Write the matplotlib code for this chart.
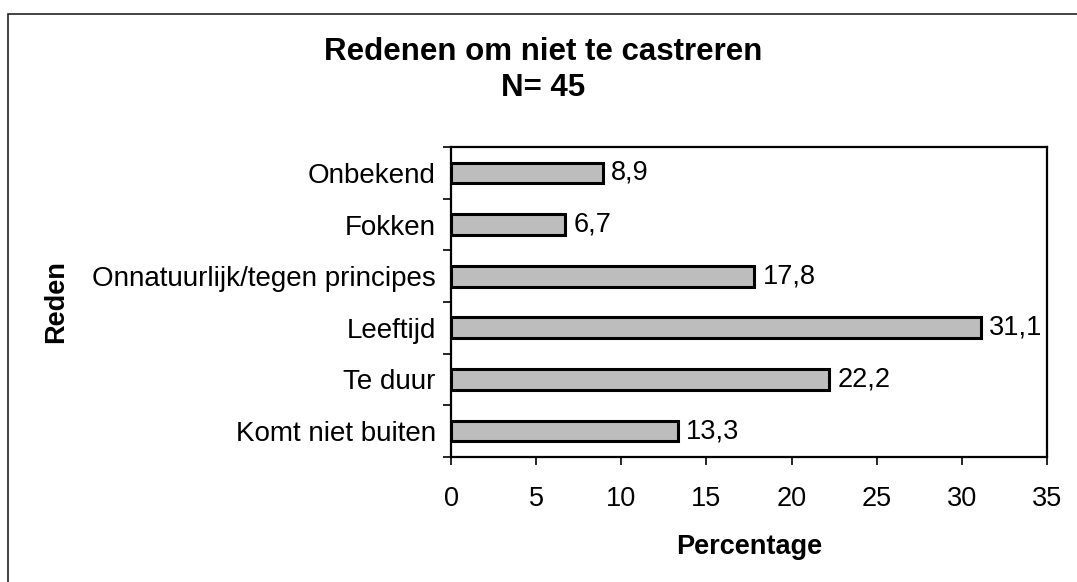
import matplotlib.pyplot as plt
from matplotlib.patches import Rectangle
import numpy as np

plt.rcParams['font.family'] = ['Liberation Sans', 'DejaVu Sans']

# data (top to bottom as in the chart)
categories = ['Onbekend', 'Fokken', 'Onnatuurlijk/tegen principes',
              'Leeftijd', 'Te duur', 'Komt niet buiten']
percentages = [8.9, 6.7, 17.8, 31.1, 22.2, 13.3]
value_labels = ['8,9', '6,7', '17,8', '31,1', '22,2', '13,3']

fig = plt.figure(figsize=(10.77, 5.82), dpi=100)
ax = fig.add_axes([0.4188, 0.2148, 0.5534, 0.5326])

# plot bottom-up so the first category ends up on top
cats = categories[::-1]
vals = percentages[::-1]
labs = value_labels[::-1]
y = np.arange(len(cats))

bars = ax.barh(y, vals, height=0.4, color='#bdbdbd', edgecolor='black', linewidth=2.2)
for b, lab in zip(bars, labs):
    ax.text(b.get_width() + 0.5, b.get_y() + b.get_height() / 2, lab,
            va='center', ha='left', fontsize=19.5)

ax.set_xlim(0, 35)
ax.set_ylim(-0.5, len(cats) - 0.5)
ax.set_xticks(np.arange(0, 36, 5))
ax.set_yticks(y)
ax.set_yticklabels(cats)
ax.set_yticks(np.arange(-0.5, len(cats), 1), minor=True)
ax.tick_params(axis='y', which='major', length=0, pad=11, labelsize=20)
ax.tick_params(axis='y', which='minor', length=6, width=1.2, direction='out')
ax.tick_params(axis='x', length=6, width=1.2, direction='out', pad=15, labelsize=19.5)

for s in ax.spines.values():
    s.set_linewidth(1.6)

ax.set_xlabel('Percentage', fontsize=19.5, fontweight='bold')
ax.xaxis.set_label_coords(0.5, -0.25)
ax.set_ylabel('Reden', fontsize=19.5, fontweight='bold')
ax.yaxis.set_label_coords(-0.64, 0.5)

fig.text(0.504, 0.91, 'Redenen om niet te castreren', ha='center', va='center',
         fontsize=22.5, fontweight='bold')
fig.text(0.504, 0.848, 'N= 45', ha='center', va='center',
         fontsize=22.5, fontweight='bold')

# outer frame of the scanned chart
fig.patches.append(Rectangle((8 / 1077, -0.1), 1.2, 1.1 - 14 / 582,
                             transform=fig.transFigure, fill=False,
                             edgecolor='#222222', linewidth=1.2))

fig.savefig('out.png', dpi=100)
